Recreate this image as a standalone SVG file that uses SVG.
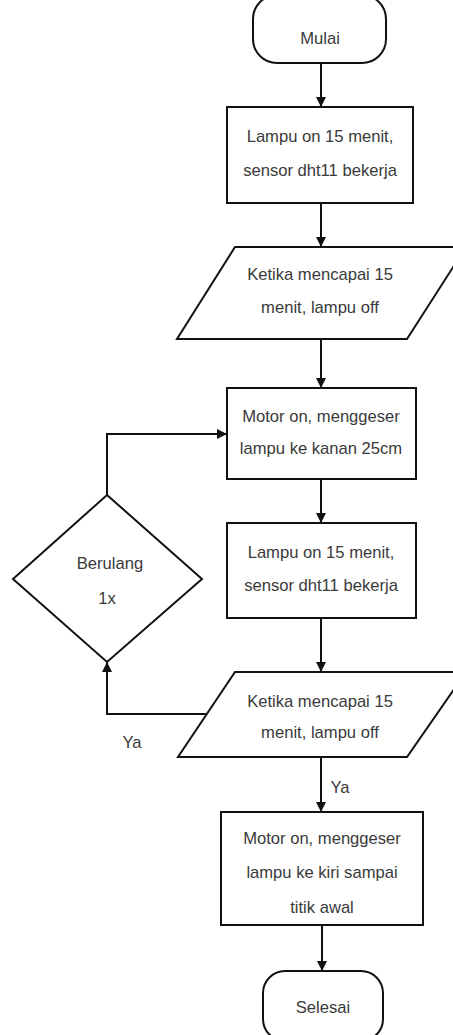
<svg xmlns="http://www.w3.org/2000/svg" width="453" height="1035" viewBox="0 0 453 1035">
<defs>
<marker id="arr" viewBox="0 0 10 10" refX="10" refY="5" markerWidth="10" markerHeight="10" markerUnits="userSpaceOnUse" orient="auto">
<path d="M0,0 L10,5 L0,10 z" fill="#111"/>
</marker>
<style>
.s{fill:#fff;stroke:#111;stroke-width:2}
.t{font-family:"Liberation Sans",Arial,sans-serif;font-size:16.6px;fill:#3a3a3a;text-anchor:middle;dominant-baseline:central}
.c{fill:none;stroke:#111;stroke-width:2}
</style>
</defs>
<rect width="453" height="1035" fill="#fff"/>
<g id="connectors">
<path class="c" d="M321,63 V107" marker-end="url(#arr)"/>
<path class="c" d="M321,203 V247" marker-end="url(#arr)"/>
<path class="c" d="M321,339 V388" marker-end="url(#arr)"/>
<path class="c" d="M321,479 V523" marker-end="url(#arr)"/>
<path class="c" d="M321,618 V672" marker-end="url(#arr)"/>
<path class="c" d="M321,757 V812" marker-end="url(#arr)"/>
<path class="c" d="M322,925 V971" marker-end="url(#arr)"/>
<path class="c" d="M207,714 H107 V662" marker-end="url(#arr)"/>
<path class="c" d="M107,495 V434 H227" marker-end="url(#arr)"/>
<text class="t" x="132" y="742">Ya</text>
<text class="t" x="340" y="787">Ya</text>
</g>
<g id="mulai">
<rect class="s" x="253" y="-5" width="133" height="68" rx="24" ry="24"/>
<text class="t" x="320" y="38">Mulai</text>
</g>
<g id="box1">
<rect class="s" x="227" y="107" width="186" height="96"/>
<text class="t" x="320" y="136">Lampu on 15 menit,</text>
<text class="t" x="320" y="170">sensor dht11 bekerja</text>
</g>
<g id="io1">
<polygon class="s" points="235,247 466,247 407,339 177,339"/>
<text class="t" x="320" y="274">Ketika mencapai 15</text>
<text class="t" x="320" y="307">menit, lampu off</text>
</g>
<g id="box2">
<rect class="s" x="227" y="388" width="189" height="91"/>
<text class="t" x="321" y="416">Motor on, menggeser</text>
<text class="t" x="321" y="448">lampu ke kanan 25cm</text>
</g>
<g id="diamond">
<polygon class="s" points="107,495 202,579 107,662 13,579"/>
<text class="t" x="110" y="563">Berulang</text>
<text class="t" x="107" y="598">1x</text>
</g>
<g id="box3">
<rect class="s" x="227" y="523" width="189" height="95"/>
<text class="t" x="321" y="552">Lampu on 15 menit,</text>
<text class="t" x="321" y="585">sensor dht11 bekerja</text>
</g>
<g id="io2">
<polygon class="s" points="235,672 466,672 407,757 178,757"/>
<text class="t" x="320" y="701">Ketika mencapai 15</text>
<text class="t" x="320" y="732">menit, lampu off</text>
</g>
<g id="box4">
<rect class="s" x="221" y="812" width="202" height="113"/>
<text class="t" x="322" y="838">Motor on, menggeser</text>
<text class="t" x="322" y="872">lampu ke kiri sampai</text>
<text class="t" x="322" y="907">titik awal</text>
</g>
<g id="selesai">
<rect class="s" x="263" y="971" width="120" height="70" rx="22" ry="22"/>
<text class="t" x="323" y="1007">Selesai</text>
</g>
</svg>
